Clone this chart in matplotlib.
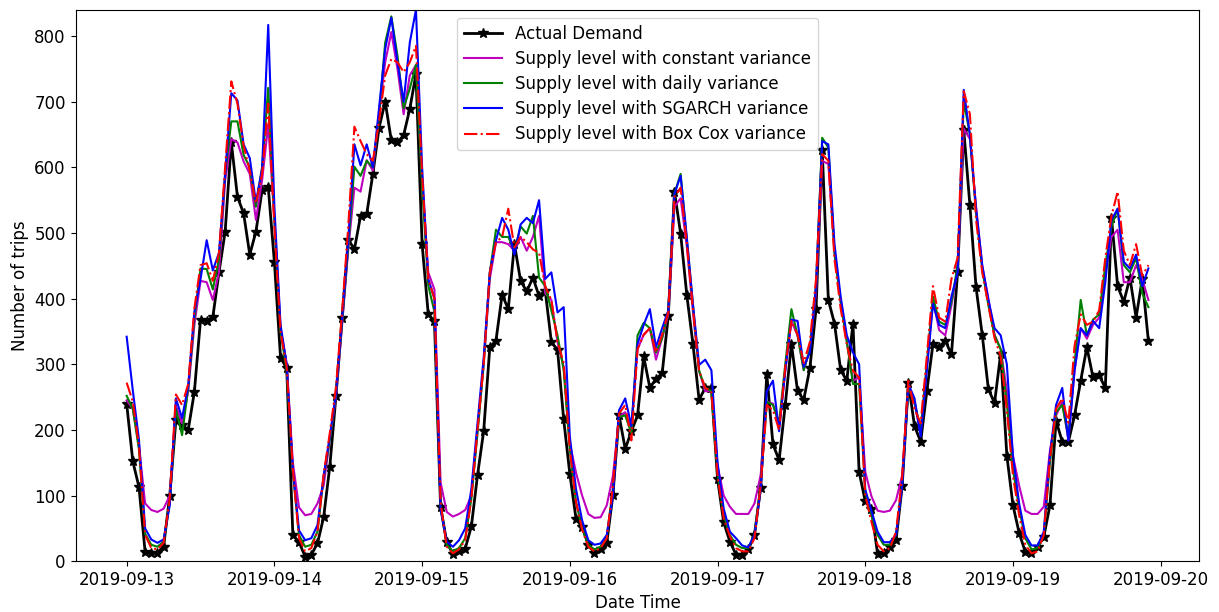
import numpy as np
import pandas as pd
import matplotlib
matplotlib.use("Agg")
import matplotlib.pyplot as plt
import matplotlib.dates as mdates

# hourly values, 2019-09-13 00:00 .. 2019-09-19 22:00
actual = [
    240, 152, 113, 14, 13, 13, 22, 100, 215, 208, 200, 258, 368, 366, 372, 440, 502, 638, 555, 530, 467, 502, 565, 570,
    456, 310, 294, 40, 29, 7, 10, 27, 67, 144, 251, 371, 490, 475, 526, 529, 590, 660, 700, 641, 638, 649, 689, 742,
    483, 376, 366, 83, 29, 11, 16, 19, 53, 131, 198, 326, 336, 406, 384, 483, 427, 411, 432, 404, 412, 334, 322, 216,
    133, 65, 52, 25, 13, 18, 28, 101, 222, 171, 198, 222, 312, 264, 278, 286, 374, 563, 499, 406, 331, 246, 264, 264,
    125, 59, 30, 10, 9, 18, 40, 112, 285, 178, 154, 238, 331, 259, 246, 294, 384, 627, 398, 362, 291, 275, 362, 136,
    91, 80, 11, 13, 21, 32, 115, 272, 206, 182, 259, 331, 326, 336, 315, 440, 657, 542, 417, 345, 262, 241, 316, 161,
    85, 43, 14, 12, 22, 37, 85, 214, 182, 182, 222, 275, 326, 280, 283, 264, 523, 419, 395, 432, 371, 430, 335,
]

const_var = [
    245, 232, 175, 88, 78, 75, 80, 100, 237, 210, 259, 360, 427, 425, 398, 440, 580, 643, 638, 609, 590, 520, 580, 665,
    520, 355, 300, 150, 82, 70, 72, 88, 115, 185, 250, 360, 475, 569, 563, 611, 595, 680, 760, 806, 750, 681, 740, 756,
    580, 440, 414, 120, 75, 68, 72, 78, 100, 200, 300, 430, 486, 486, 483, 473, 494, 473, 494, 526, 408, 398, 334, 296,
    180, 135, 100, 72, 66, 67, 85, 130, 220, 227, 200, 323, 345, 355, 307, 340, 376, 540, 553, 480, 380, 290, 259, 259,
    145, 100, 83, 72, 72, 72, 88, 131, 243, 240, 206, 290, 366, 344, 291, 323, 410, 610, 605, 470, 395, 335, 275, 280,
    136, 99, 77, 75, 77, 93, 131, 265, 240, 195, 296, 398, 352, 344, 390, 445, 659, 643, 540, 450, 400, 345, 323, 260,
    160, 115, 77, 72, 72, 83, 168, 222, 243, 184, 290, 355, 339, 360, 371, 440, 494, 505, 425, 425, 451, 430, 398,
]

daily_var = [
    252, 232, 170, 42, 25, 22, 30, 90, 232, 192, 264, 370, 446, 445, 414, 460, 590, 670, 670, 619, 600, 540, 600, 721,
    520, 350, 290, 135, 40, 22, 25, 45, 128, 185, 255, 365, 480, 601, 587, 610, 600, 680, 790, 830, 770, 690, 720, 756,
    570, 420, 380, 85, 25, 15, 20, 35, 95, 195, 300, 440, 505, 494, 494, 473, 510, 499, 526, 432, 419, 382, 344, 291,
    170, 90, 50, 25, 18, 22, 38, 110, 220, 222, 195, 344, 363, 355, 318, 340, 382, 560, 590, 490, 390, 290, 264, 259,
    135, 70, 40, 25, 20, 20, 40, 115, 243, 238, 211, 300, 384, 344, 291, 323, 420, 645, 630, 470, 395, 335, 270, 270,
    105, 70, 40, 25, 25, 40, 120, 265, 243, 200, 302, 403, 365, 360, 395, 450, 700, 650, 530, 445, 390, 344, 323, 240,
    140, 80, 35, 18, 20, 40, 150, 227, 238, 190, 300, 398, 344, 368, 376, 451, 510, 537, 451, 440, 462, 408, 387,
]

sgarch_var = [
    342, 260, 185, 50, 33, 28, 33, 85, 248, 218, 267, 380, 430, 489, 443, 470, 590, 713, 702, 635, 614, 547, 598, 817,
    540, 360, 300, 140, 47, 32, 35, 55, 130, 190, 255, 370, 490, 635, 603, 635, 600, 690, 780, 828, 760, 700, 790, 840,
    600, 430, 400, 80, 30, 22, 32, 50, 110, 210, 310, 440, 489, 523, 505, 467, 513, 523, 515, 550, 430, 440, 379, 387,
    190, 110, 62, 32, 25, 27, 40, 100, 230, 248, 206, 331, 360, 384, 326, 355, 382, 560, 587, 494, 392, 299, 307, 291,
    150, 80, 45, 35, 24, 21, 40, 109, 259, 275, 198, 290, 368, 366, 296, 318, 420, 640, 635, 483, 403, 344, 318, 300,
    109, 77, 45, 29, 29, 40, 115, 270, 248, 190, 291, 392, 360, 355, 403, 440, 718, 649, 537, 451, 398, 355, 344, 300,
    160, 88, 40, 24, 24, 45, 163, 238, 264, 184, 291, 355, 344, 366, 355, 425, 520, 537, 456, 446, 467, 419, 446,
]

boxcox_var = [
    272, 243, 175, 40, 20, 18, 28, 95, 254, 238, 270, 385, 451, 454, 427, 470, 600, 731, 697, 633, 595, 545, 590, 697,
    510, 350, 295, 140, 35, 15, 20, 45, 132, 195, 265, 380, 510, 662, 640, 620, 610, 670, 740, 765, 760, 745, 760, 785,
    590, 430, 400, 90, 22, 12, 18, 32, 95, 200, 300, 440, 486, 494, 537, 478, 494, 486, 475, 470, 419, 398, 334, 302,
    170, 90, 48, 22, 15, 20, 35, 115, 225, 238, 184, 323, 345, 355, 318, 345, 380, 555, 569, 485, 385, 290, 264, 259,
    130, 65, 38, 20, 15, 15, 35, 115, 238, 230, 200, 295, 366, 345, 302, 334, 430, 620, 610, 460, 385, 330, 290, 280,
    100, 60, 25, 15, 20, 45, 130, 275, 232, 210, 312, 419, 371, 365, 430, 462, 716, 681, 520, 440, 390, 340, 312, 230,
    130, 70, 25, 12, 15, 40, 155, 232, 248, 211, 328, 376, 360, 365, 382, 462, 526, 563, 473, 451, 483, 435, 451,
]

times = pd.date_range("2019-09-13 00:00", periods=len(actual), freq="h")

fig, ax = plt.subplots(figsize=(12.19, 6.12), dpi=100)
fig.subplots_adjust(left=0.062, right=0.984, bottom=0.083, top=0.984)

ax.plot(times, actual, color="k", marker="*", markersize=7.5, linewidth=2, label="Actual Demand")
ax.plot(times, const_var, color="m", linewidth=1.5, label="Supply level with constant variance")
ax.plot(times, daily_var, color="g", linewidth=1.5, label="Supply level with daily variance")
ax.plot(times, sgarch_var, color="b", linewidth=1.5, label="Supply level with SGARCH variance")
ax.plot(times, boxcox_var, color="r", linestyle="-.", linewidth=1.5, label="Supply level with Box Cox variance")

ax.set_ylim(0, 840)
ax.xaxis.set_major_locator(mdates.DayLocator())
ax.xaxis.set_major_formatter(mdates.DateFormatter("%Y-%m-%d"))
ax.tick_params(labelsize=12)
ax.set_xlabel("Date Time", fontsize=12)
ax.set_ylabel("Number of trips", fontsize=12)
ax.legend(loc="upper center", fontsize=12, handlelength=2.3, labelspacing=0.43)

fig.savefig("out.png", dpi=100)
